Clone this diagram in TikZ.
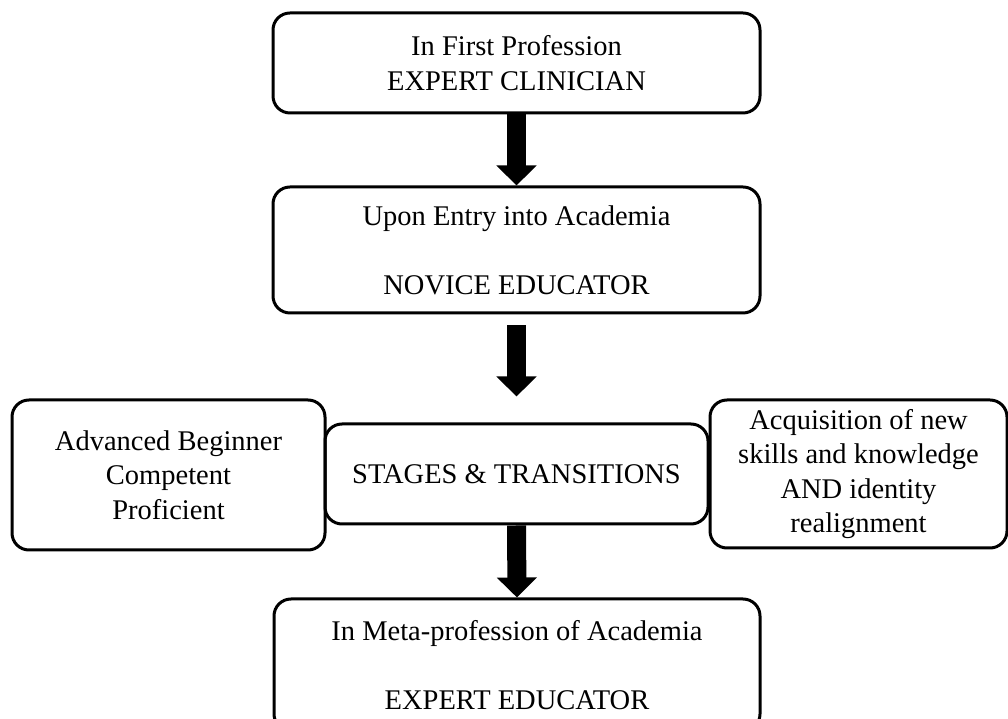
\documentclass[tikz,border=0pt]{standalone}
\usepackage{fontspec}
\setmainfont{Liberation Serif}
\usetikzlibrary{arrows.meta}
\def\boxlw{3pt}
\def\rad{17pt}
\tikzset{
  stage/.style={
    rectangle,rounded corners=\rad,draw=black,line width=\boxlw,
    inner sep=0pt,align=center,
    font=\fontsize{28.5}{34.5}\selectfont
},
  blk/.style={line width=19pt,-{Triangle[width=39pt,length=20pt]}}
}
\begin{document}
\begin{tikzpicture}[x=1pt,y=1pt,line join=round]
\useasboundingbox (0,0) rectangle (1008,719);
\node[stage,minimum width=487pt,minimum height=100pt] (clin) at (516.5,656)
  {In First Profession\\EXPERT CLINICIAN};
\node[stage,minimum width=487pt,minimum height=126pt] (nov) at (516.5,469)
  {Upon Entry into Academia\\[34.5pt]NOVICE EDUCATOR};
\node[stage,minimum width=383pt,minimum height=100pt] (stg) at (516.5,245)
  {STAGES \& TRANSITIONS};
\node[stage,minimum width=313pt,minimum height=150pt] (lvl) at (168.5,244)
  {Advanced Beginner\\Competent\\Proficient};
\node[stage,minimum width=297pt,minimum height=148pt] (acq) at (858.5,245)
  {Acquisition of new\\skills and knowledge\\AND identity\\realignment};
\node[stage,minimum width=486pt,minimum height=132pt] (exp) at (517,54)
  {In Meta-profession of Academia\\[34.5pt]EXPERT EDUCATOR};
\draw[blk] (clin.south) -- (nov.north);
\draw[blk,shorten <=11pt,shorten >=26pt] (nov.south) -- (stg.north);
\draw[blk] (stg.south) -- (exp.north);
\end{tikzpicture}
\end{document}
